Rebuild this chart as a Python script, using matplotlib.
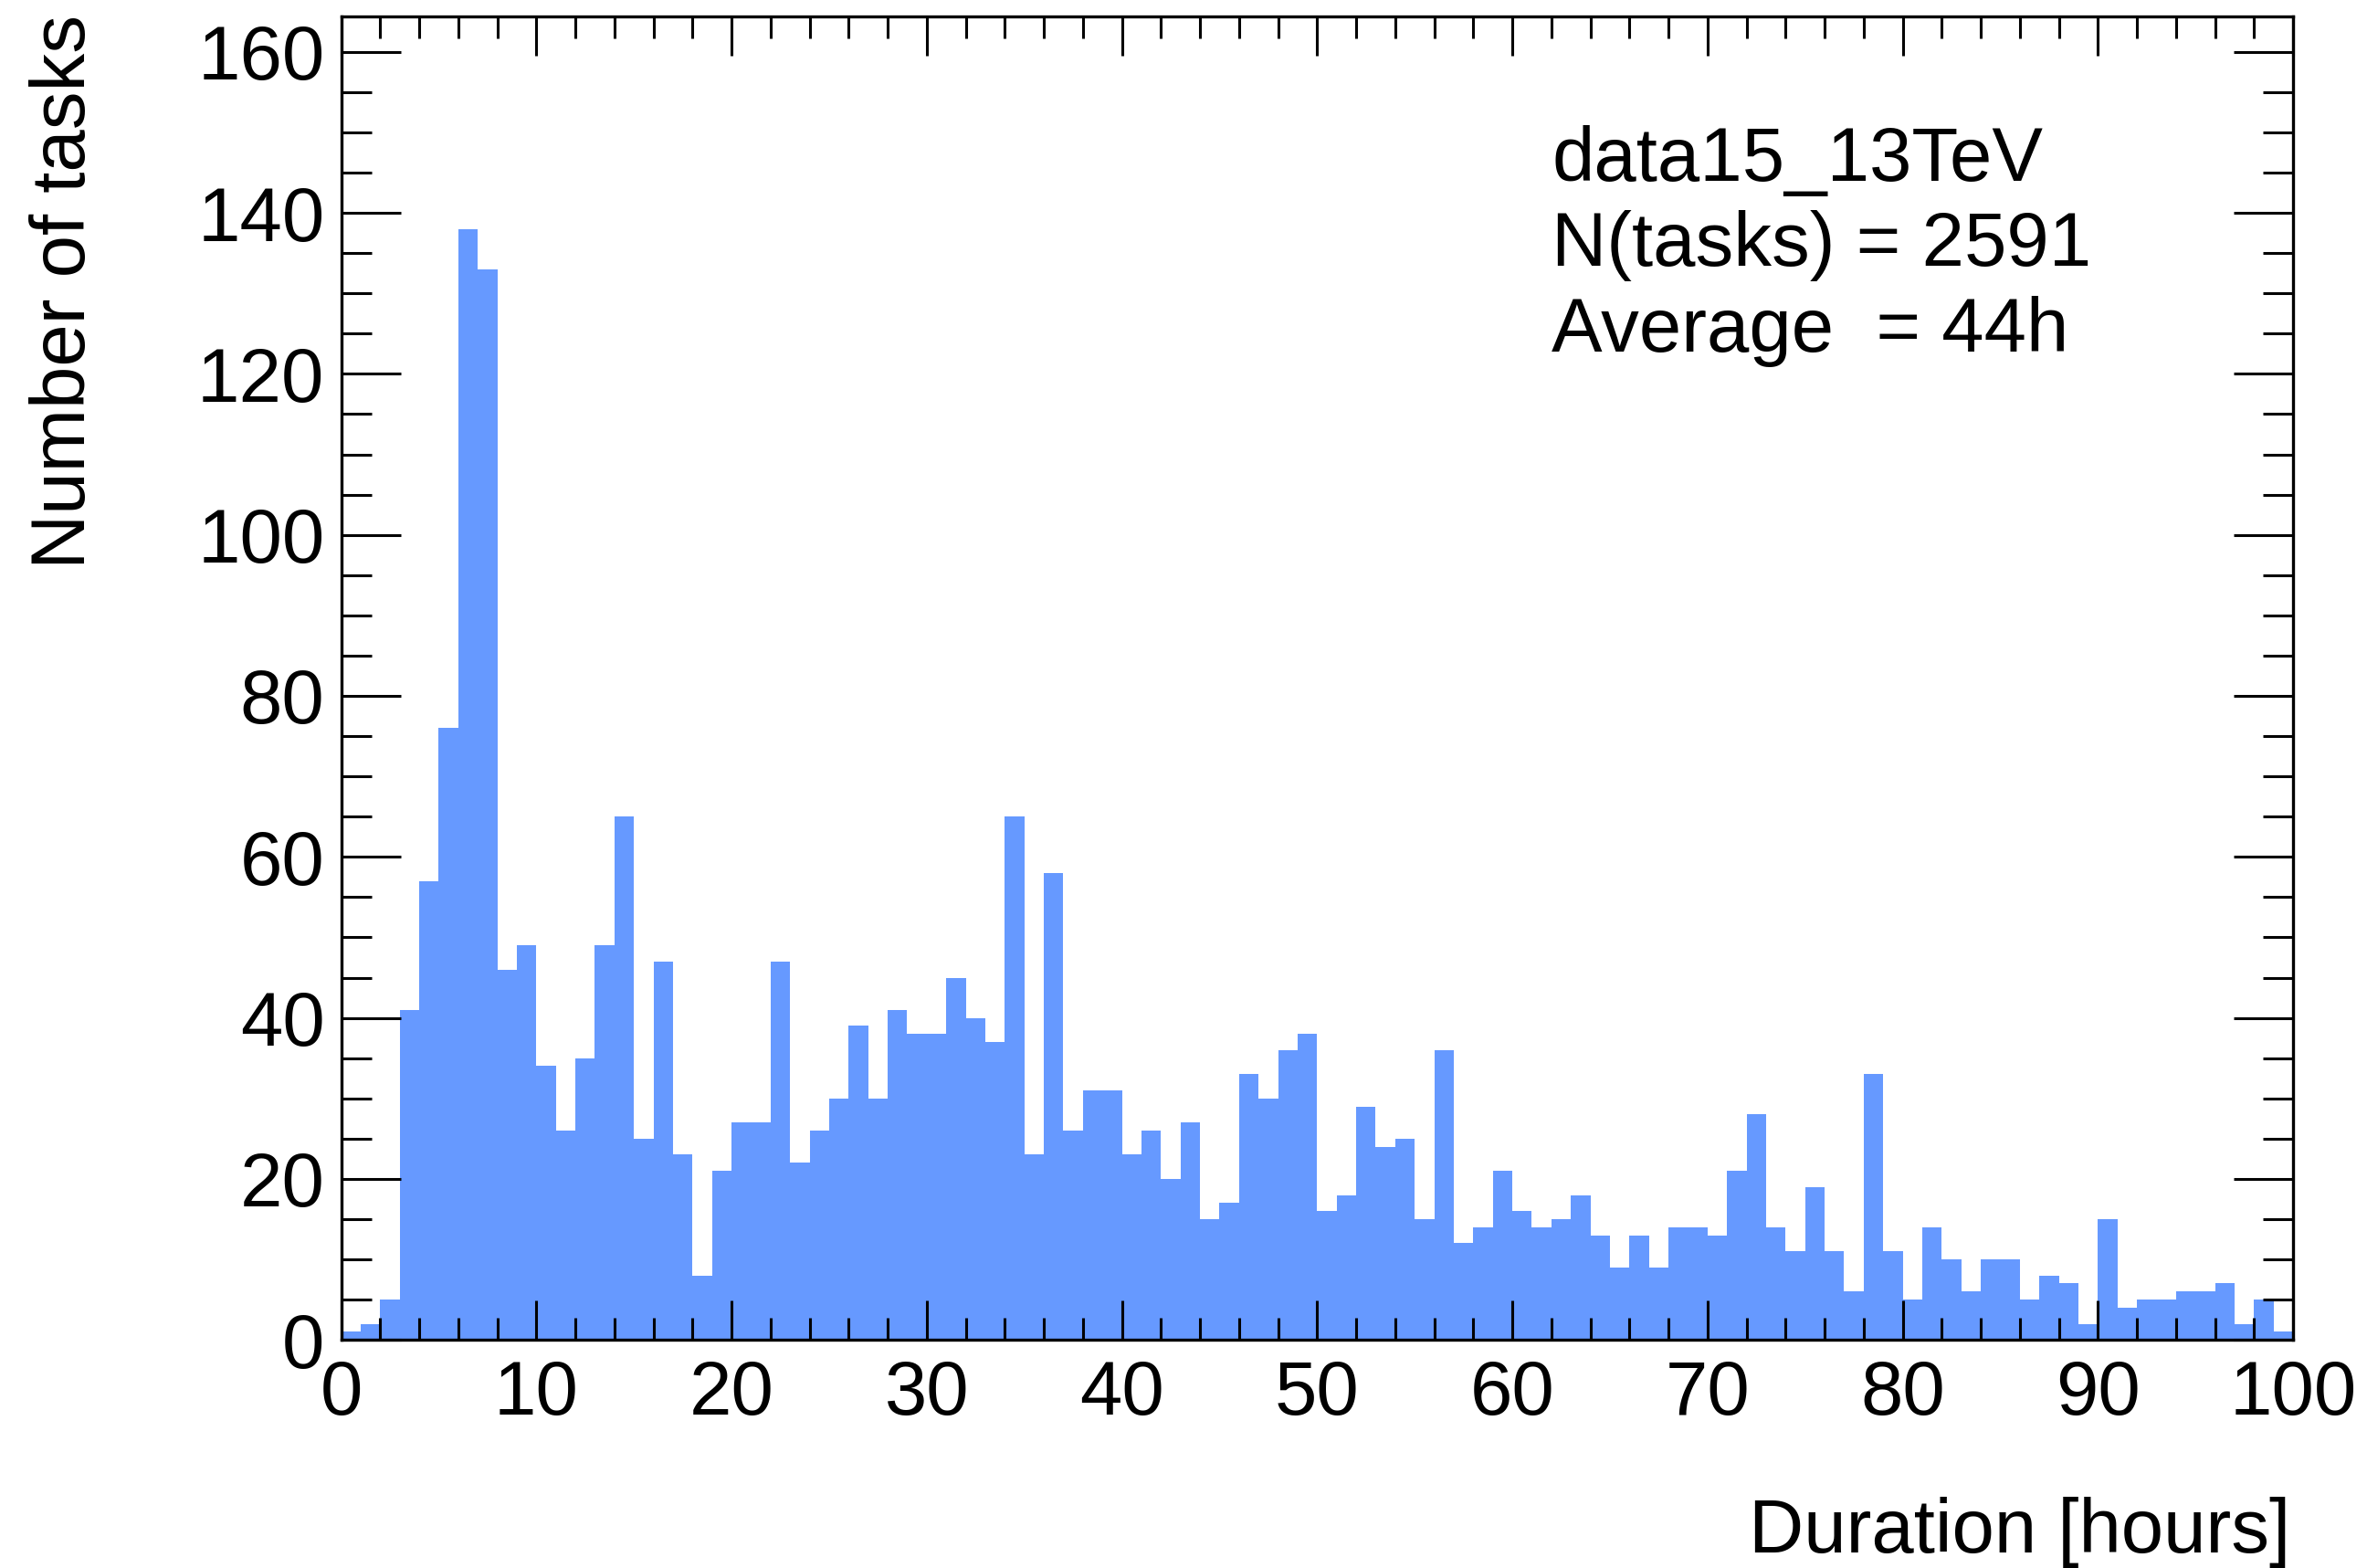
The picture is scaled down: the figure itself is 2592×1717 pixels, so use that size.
import numpy as np
import matplotlib
matplotlib.use('Agg')
import matplotlib.pyplot as plt
from matplotlib.ticker import MultipleLocator

plt.rcParams['font.family'] = ['Liberation Sans', 'DejaVu Sans']

# histogram: 100 bins of 1 hour from 0 to 100
x_min, x_max, n_bins = 0, 100, 100
counts = [1, 2, 5, 41, 57, 76, 138, 133, 46, 49,
          34, 26, 35, 49, 65, 25, 47, 23, 8, 21,
          27, 27, 47, 22, 26, 30, 39, 30, 41, 38,
          38, 45, 40, 37, 65, 23, 58, 26, 31, 31,
          23, 26, 20, 27, 15, 17, 33, 30, 36, 38,
          16, 18, 29, 24, 25, 15, 36, 12, 14, 21,
          16, 14, 15, 18, 13, 9, 13, 9, 14, 14,
          13, 21, 28, 14, 11, 19, 11, 6, 33, 11,
          5, 14, 10, 6, 10, 10, 5, 8, 7, 2,
          15, 4, 5, 5, 6, 6, 7, 2, 5, 1]
info_lines = ['data15_13TeV', 'N(tasks) = 2591', 'Average  = 44h']

edges = np.linspace(x_min, x_max, n_bins + 1)

fig = plt.figure(figsize=(12.96, 8.585), dpi=200)
ax = fig.add_axes([0.1441, 0.1455, 0.9688 - 0.1441, 0.9895 - 0.1455])

ax.stairs(counts, edges, fill=True, color='#6699ff', linewidth=0)

ax.set_xlim(x_min, x_max)
ax.set_ylim(0, 164.4)

ax.xaxis.set_major_locator(MultipleLocator(10))
ax.xaxis.set_minor_locator(MultipleLocator(2))
ax.yaxis.set_major_locator(MultipleLocator(20))
ax.yaxis.set_minor_locator(MultipleLocator(5))

ax.tick_params(which='both', direction='in', top=True, right=True, width=1.1, labelsize=30)
ax.tick_params(axis='x', which='major', length=15.5, pad=7.5)
ax.tick_params(axis='x', which='minor', length=8.8)
ax.tick_params(axis='y', which='major', length=23.5, pad=6.5)
ax.tick_params(axis='y', which='minor', length=12)
for s in ax.spines.values():
    s.set_linewidth(1.2)

fig.text(0.0274, 0.9907, 'Number of tasks', rotation=90, ha='center', va='top', fontsize=30)
fig.text(2508 / 2592, 1 - 1700 / 1717, 'Duration [hours]', ha='right', va='baseline', fontsize=30)

for i, line in enumerate(info_lines):
    fig.text(1699 / 2592, 1 - (198 + 93.5 * i) / 1717, line, ha='left', va='baseline', fontsize=30)

fig.savefig('out.png', dpi=200)
